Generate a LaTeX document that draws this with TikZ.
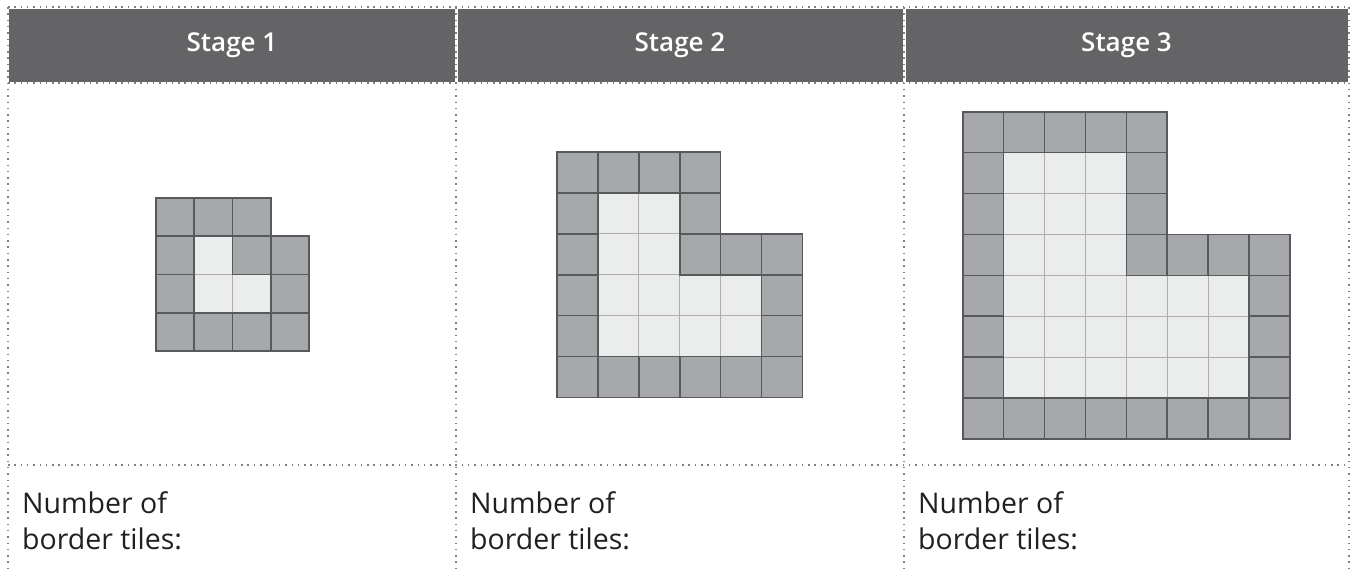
\documentclass[tikz,border=0pt]{standalone}
\usepackage{fontspec}
\setmainfont{Open Sans}
\newfontfamily\hdrfont{Open Sans Semibold}
\definecolor{hdr}{HTML}{646466}
\definecolor{darkfill}{HTML}{A7A8AB}
\definecolor{darkline}{HTML}{58595B}
\definecolor{lightfill}{HTML}{EBECEC}
\definecolor{lightline}{HTML}{AEAEAE}
\definecolor{dotc}{HTML}{808080}
\definecolor{txt}{HTML}{231F20}
\tikzset{
  darktile/.style={fill=darkfill,draw=darkline,line width=1.6pt},
  lighttile/.style={fill=lightfill,draw=lightline,line width=1.1pt},
  dotline/.style={draw=dotc,line width=1.5pt,dash pattern=on 1.5pt off 4.8pt},
  hdrbox/.style={fill=hdr},
  hdrtext/.style={text=white,font=\hdrfont\fontsize{26}{30}\selectfont,inner sep=0pt},
  bodytext/.style={text=txt,font=\fontsize{28.5}{36}\selectfont,align=left,inner sep=0pt,anchor=base west}
}
% #1 left x, #2 top y, #3 cell size, #4 stage number
\newcommand\tilegrid[4]{%
  \pgfmathtruncatemacro\tmax{2*#4+1}%
  \pgfmathtruncatemacro\tnar{#4+1}%
  \pgfmathtruncatemacro\tn{#4}%
  \pgfmathtruncatemacro\ttwo{2*#4}%
  \foreach \r in {1,...,\ttwo}{%
    \ifnum\r>\tn \def\cm{\ttwo}\else\def\cm{\tn}\fi
    \foreach \c in {1,...,\cm}{%
      \path[lighttile] ({#1+\c*#3},{#2+\r*#3}) rectangle ++(#3,#3);
    }%
  }%
  \foreach \r in {0,...,\tmax}{%
    \ifnum\r<\tn \def\cm{\tnar}\else\def\cm{\tmax}\fi
    \foreach \c in {0,...,\cm}{%
      \pgfmathtruncatemacro\isl{and(and(\r>=1,\r<=\ttwo),and(\c>=1,\c<=ifthenelse(\r>\tn,\ttwo,\tn)))}%
      \ifnum\isl=0
        \path[darktile] ({#1+\c*#3},{#2+\r*#3}) rectangle ++(#3,#3);
      \fi
    }%
  }%
}
\begin{document}
\begin{tikzpicture}[x=1pt,y=-1pt]
\useasboundingbox (0,0) rectangle (1351,573);
% header cells
\fill[hdrbox] (9,8.5) rectangle (454.5,81.5);
\fill[hdrbox] (457.5,8.5) rectangle (902.5,81.5);
\fill[hdrbox] (905.5,8.5) rectangle (1347.5,81.5);
% dotted table lines
\draw[dotline] (8,7) -- (1349,7);
\draw[dotline] (8,83) -- (1349,83);
\draw[dotline] (8,465) -- (1349,465);
\draw[dotline] (8,7) -- (8,573);
\draw[dotline] (456,7) -- (456,573);
\draw[dotline] (904,7) -- (904,573);
\draw[dotline] (1349,7) -- (1349,573);
% headers
\node[hdrtext] (h1) at (232,45) {Stage 1};
\node[hdrtext] (h2) at (680,45) {Stage 2};
\node[hdrtext] (h3) at (1126.5,45) {Stage 3};
% tiles
\tilegrid{156}{198}{38.25}{1}
\tilegrid{557}{152}{40.9}{2}
\tilegrid{962.7}{111.7}{40.9}{3}
% bottom text
\node[bodytext] (t1) at (22,549) {Number of\\border tiles:};
\node[bodytext] (t2) at (470,549) {Number of\\border tiles:};
\node[bodytext] (t3) at (918,549) {Number of\\border tiles:};
\end{tikzpicture}
\end{document}
